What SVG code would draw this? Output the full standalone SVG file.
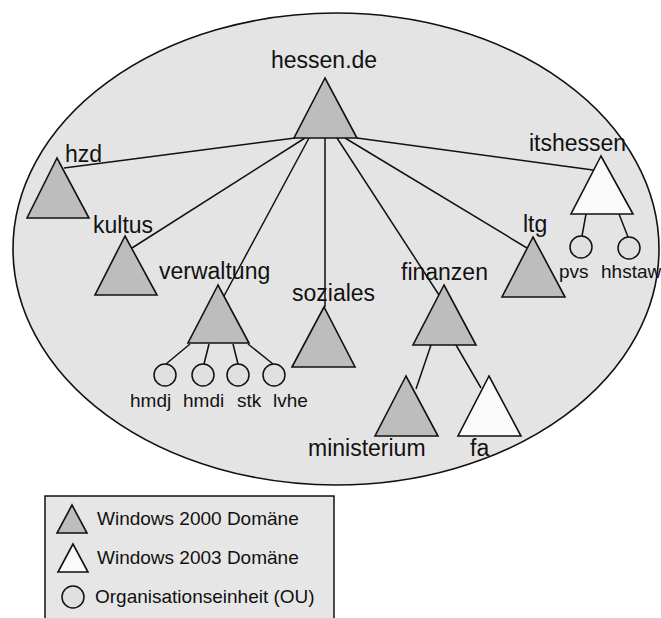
<svg xmlns="http://www.w3.org/2000/svg" width="661" height="618" viewBox="0 0 661 618">
<style>
text{font-family:"Liberation Sans",Arial,sans-serif;fill:#111}
.lbl{font-size:23px}
.sm{font-size:19px}
.w2k{fill:#bdbdbd;stroke:#111;stroke-width:1.6;stroke-linejoin:miter}
.w2k3{fill:#fafafa;stroke:#111;stroke-width:1.6;stroke-linejoin:miter}
.ou{fill:#e0e0e0;stroke:#111;stroke-width:1.5}
.con line{stroke:#111;stroke-width:1.5}
</style>
<rect width="661" height="618" fill="#fff"/>
<ellipse id="forest" cx="336" cy="249" rx="323" ry="236" fill="#e4e4e4" stroke="#111" stroke-width="1.6"/>
<g id="connectors" class="con">
<line x1="295" y1="138" x2="64" y2="168"/>
<line x1="305" y1="138" x2="132" y2="248"/>
<line x1="309" y1="138" x2="224" y2="296"/>
<line x1="325" y1="138" x2="325" y2="307"/>
<line x1="337" y1="138" x2="439" y2="295"/>
<line x1="345" y1="138" x2="527" y2="248"/>
<line x1="357" y1="138" x2="593" y2="170"/>
<line x1="431" y1="345" x2="416" y2="389"/>
<line x1="456" y1="345" x2="481" y2="388"/>
<line x1="190" y1="344" x2="166" y2="364"/>
<line x1="209" y1="344" x2="204" y2="364"/>
<line x1="233" y1="344" x2="238" y2="364"/>
<line x1="248" y1="344" x2="273" y2="364"/>
<line x1="586" y1="214" x2="582" y2="236"/>
<line x1="619" y1="214" x2="628" y2="237"/>
</g>
<g id="hessen"><polygon class="w2k" points="325,78 294,138 357,138"/><text class="lbl" x="271" y="68">hessen.de</text></g>
<g id="hzd"><polygon class="w2k" points="57,158 27,218 89,218"/><text class="lbl" x="65" y="162">hzd</text></g>
<g id="kultus"><polygon class="w2k" points="125,236 95,295 157,295"/><text class="lbl" x="93" y="233">kultus</text></g>
<g id="verwaltung"><polygon class="w2k" points="218,285 188,343 249,343"/><text class="lbl" x="159" y="279">verwaltung</text></g>
<g id="soziales"><polygon class="w2k" points="324,307 292,367 355,367"/><text class="lbl" x="292" y="301">soziales</text></g>
<g id="finanzen"><polygon class="w2k" points="444,285 413,345 476,345"/><text class="lbl" x="401" y="280">finanzen</text></g>
<g id="ministerium"><polygon class="w2k" points="406,376 375,436 438,436"/><text class="lbl" x="308" y="456">ministerium</text></g>
<g id="fa"><polygon class="w2k3" points="489,376 458,436 521,436"/><text class="lbl" x="470" y="456">fa</text></g>
<g id="ltg"><polygon class="w2k" points="533,237 502,297 565,297"/><text class="lbl" x="523" y="232">ltg</text></g>
<g id="itshessen"><polygon class="w2k3" points="601,156 571,214 633,214"/><text class="lbl" x="529" y="151">itshessen</text></g>
<g id="pvs"><circle class="ou" cx="581" cy="247" r="11"/><text class="sm" x="559" y="278">pvs</text></g>
<g id="hhstaw"><circle class="ou" cx="629" cy="248" r="11"/><text class="sm" x="601" y="278">hhstaw</text></g>
<g id="hmdj"><circle class="ou" cx="165" cy="375" r="11"/><text class="sm" x="130" y="407">hmdj</text></g>
<g id="hmdi"><circle class="ou" cx="203" cy="375" r="11"/><text class="sm" x="183" y="407">hmdi</text></g>
<g id="stk"><circle class="ou" cx="238" cy="375" r="11"/><text class="sm" x="237" y="407">stk</text></g>
<g id="lvhe"><circle class="ou" cx="274" cy="375" r="11"/><text class="sm" x="273" y="407">lvhe</text></g>
<g id="legend">
<rect x="45" y="496" width="289" height="140" fill="#e6e6e6" stroke="#111" stroke-width="1.5"/>
<polygon class="w2k" points="72,505 57,533 87,533"/>
<text class="sm" x="97" y="525">Windows 2000 Domäne</text>
<polygon class="w2k3" points="73,544 58,572 88,572"/>
<text class="sm" x="97" y="564">Windows 2003 Domäne</text>
<circle class="ou" cx="73" cy="597" r="11"/>
<text class="sm" x="95" y="603">Organisationseinheit (OU)</text>
</g>
</svg>
